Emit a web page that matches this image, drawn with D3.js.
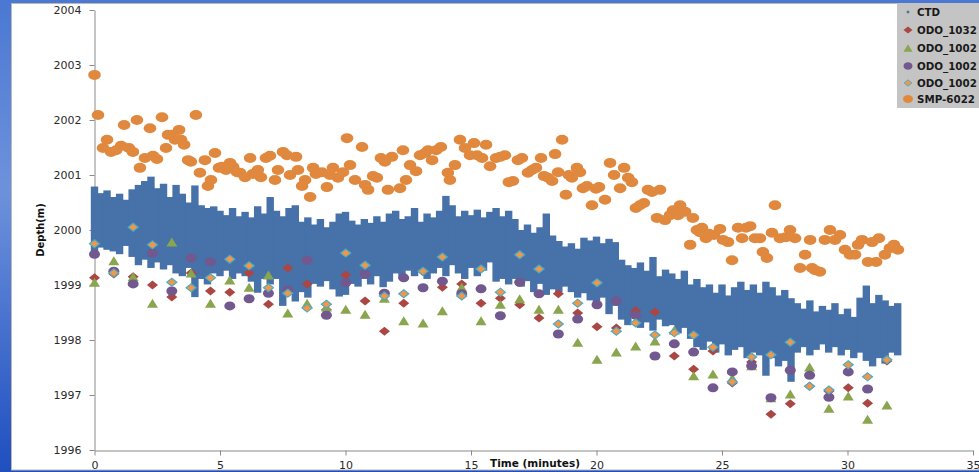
<!DOCTYPE html>
<html>
<head>
<meta charset="utf-8">
<script src="https://cdn.jsdelivr.net/npm/d3@7"></script>
<style>
  body { margin: 0; overflow: hidden; }
  svg { display: block; font-family: "DejaVu Sans", Verdana, sans-serif; }
</style>
</head>
<body>
<div id="chart"></div>
<script>
// CTD: high / low envelope of the dense logger trace, one pair every 0.25 min
var ctdStep = 0.25;
var ctdHigh = [
  2000.79, 2000.67, 2000.72, 2000.60, 2000.66, 2000.55, 2000.74, 2000.82,
  2000.89, 2000.97, 2000.76, 2000.84, 2000.60, 2000.82, 2000.66, 2000.50,
  2000.81, 2000.45, 2000.40, 2000.43, 2000.35, 2000.27, 2000.40, 2000.25,
  2000.33, 2000.23, 2000.43, 2000.30, 2000.60, 2000.35, 2000.25, 2000.40,
  2000.45, 2000.15, 2000.23, 2000.10, 2000.20, 2000.05, 2000.15, 2000.30,
  2000.33, 2000.17, 2000.10, 2000.20, 2000.13, 2000.25, 2000.15, 2000.30,
  2000.35, 2000.20, 2000.25, 2000.40, 2000.15, 2000.30, 2000.23, 2000.35,
  2000.62, 2000.45, 2000.25, 2000.35, 2000.27, 2000.37, 2000.23, 2000.33,
  2000.40, 2000.25, 2000.35, 2000.20, 2000.00, 2000.10, 1999.95, 2000.05,
  2000.30, 1999.90, 1999.80, 1999.70, 1999.76, 1999.66, 1999.86, 1999.81,
  1999.88, 1999.76, 1999.84, 1999.78, 1999.46, 1999.36, 1999.31, 1999.41,
  1999.26, 1999.51, 1999.16, 1999.28, 1999.21, 1999.11, 1999.26, 1999.01,
  1999.11, 1998.96, 1999.01, 1998.86, 1999.01, 1998.81, 1998.96, 1999.06,
  1998.91, 1999.01, 1998.86, 1999.06, 1998.96, 1998.81, 1998.91, 1998.76,
  1998.67, 1998.57, 1998.72, 1998.52, 1998.62, 1998.55, 1998.67, 1998.47,
  1998.57, 1998.42, 1998.77, 1998.99, 1998.67, 1998.82, 1998.72, 1998.62,
  1998.67
];
var ctdLow = [
  1999.61, 1999.68, 1999.64, 1999.61, 1999.56, 1999.71, 1999.51, 1999.36,
  1999.46, 1999.31, 1999.41, 1999.28, 1999.36, 1999.21, 1999.16, 1999.31,
  1998.78, 1999.11, 1999.01, 1999.21, 1999.16, 1999.26, 1999.11, 1999.21,
  1999.16, 1999.06, 1998.86, 1999.11, 1999.01, 1999.11, 1998.62, 1998.96,
  1998.70, 1998.87, 1998.77, 1999.02, 1998.97, 1999.07, 1998.92, 1998.79,
  1998.82, 1999.02, 1998.97, 1999.11, 1999.01, 1999.16, 1998.96, 1999.06,
  1999.21, 1999.11, 1999.26, 1999.16, 1999.26, 1999.11, 1999.21, 1999.31,
  1999.16, 1999.36, 1999.21, 1999.11, 1999.31, 1999.16, 1999.26, 1999.41,
  1999.06, 1999.11, 1999.01, 1999.11, 1998.97, 1999.07, 1998.87, 1999.02,
  1998.82, 1998.92, 1998.87, 1998.97, 1998.87, 1998.77, 1998.85, 1998.72,
  1998.67, 1998.77, 1998.47, 1998.62, 1998.37, 1998.27, 1998.42, 1998.22,
  1998.32, 1998.17, 1998.37, 1998.25, 1998.27, 1998.12, 1998.22, 1998.02,
  1997.87, 1997.82, 1997.97, 1997.77, 1997.92, 1997.72, 1997.82, 1997.87,
  1997.67, 1997.77, 1997.72, 1997.35, 1997.67, 1997.52, 1997.62, 1997.24,
  1997.77, 1997.87, 1997.72, 1997.82, 1997.92, 1997.77, 1997.87, 1997.72,
  1997.82, 1997.67, 1997.77, 1997.62, 1997.52, 1997.67, 1997.57, 1997.77,
  1997.72
];

// sonde readings, one every ~0.77 min
var odoTime = [0, 0.77, 1.54, 2.31, 3.08, 3.85, 4.62, 5.39, 6.16, 6.93, 7.70, 8.47, 9.24, 10.01,
  10.78, 11.55, 12.32, 13.09, 13.86, 14.63, 15.40, 16.17, 16.94, 17.71, 18.48, 19.25, 20.02,
  20.79, 21.56, 22.33, 23.10, 23.87, 24.64, 25.41, 26.18, 26.95, 27.72, 28.49, 29.26, 30.03,
  30.80, 31.57];
var odo1032 = [1999.13, 1999.20, 1999.15, 1999.00, 1998.78, 1999.22, 1998.89, 1998.87, 1999.22,
  1998.65, 1999.31, 1999.02, 1998.55, 1999.18, 1998.71, 1998.16, 1998.67, 1999.24, 1998.96,
  1999.02, 1998.67, 1998.76, 1998.64, 1998.40, 1998.84, 1998.49, 1998.24, 1998.22, 1998.53,
  1998.51, 1997.71, 1997.47, 1997.80, 1997.22, 1997.60, 1996.65, 1996.84, 1997.16, 1997.07,
  1997.13, 1996.85, 1997.62];
var odo1002a = [1999.05, 1999.44, 1999.15, 1998.67, 1999.78, 1999.22, 1998.67, 1999.09, 1998.96,
  1999.18, 1998.49, 1998.67, 1998.60, 1998.56, 1998.47, 1998.76, 1998.35, 1998.31, 1998.53,
  1998.96, 1998.35, 1998.65, 1998.75, 1998.56, 1998.56, 1997.96, 1997.65, 1997.78, 1997.89,
  1997.98, 1998.18, 1997.35, 1997.38, 1997.31, 1997.53, 1996.95, 1997.02, 1997.51, 1996.76,
  1996.98, 1996.56, 1996.82];
var odo1002b = [1999.56, 1999.25, 1999.02, 1999.58, 1998.89, 1999.49, 1999.42, 1998.62, 1998.75,
  1998.85, 1998.91, 1999.45, 1998.45, 1999.04, 1999.20, 1998.85, 1999.13, 1998.95, 1999.07,
  1998.84, 1998.93, 1998.44, 1999.05, 1998.84, 1998.11, 1998.38, 1998.64, 1998.71, 1998.45,
  1997.71, 1997.93, 1997.78, 1997.13, 1997.42, 1997.53, 1996.95, 1997.45, 1997.36, 1996.96,
  1997.42, 1997.11, null];
var odo1002c = [1999.75, 1999.22, 2000.05, 1999.73, 1999.05, 1998.95, 1999.13, 1999.47, 1999.35,
  1998.95, 1998.85, 1998.58, 1998.65, 1999.58, 1999.36, 1998.80, 1998.84, 1999.25, 1999.51,
  1998.80, 1999.29, 1998.87, 1999.55, 1999.29, 1998.29, 1998.67, 1999.04, 1998.16, 1998.31,
  1998.09, 1998.13, 1998.09, 1997.87, 1997.24, 1997.69, 1997.73, 1997.96, 1997.16, 1997.09,
  1997.55, 1997.33, 1997.64];

// SMP-6022 readings
var smpTime = [0.00, 0.14, 0.34, 0.50, 0.66, 0.86, 1.06, 1.18, 1.37, 1.53, 1.69, 1.81, 2.01, 2.21,
  2.33, 2.49, 2.69, 2.85, 2.93, 3.09, 3.21, 3.37, 3.45, 3.57, 3.73, 3.84, 4.04, 4.20, 4.40, 4.52,
  4.64, 4.80, 4.96, 5.08, 5.24, 5.40, 5.52, 5.68, 5.80, 6.00, 6.20, 6.31, 6.51, 6.63, 6.83, 6.99,
  7.19, 7.31, 7.51, 7.67, 7.79, 8.03, 8.11, 8.27, 8.39, 8.59, 8.71, 8.82, 9.06, 9.26, 9.38, 9.50,
  9.70, 9.90, 10.06, 10.18, 10.38, 10.66, 10.78, 10.90, 11.10, 11.25, 11.41, 11.57, 11.69, 11.85,
  12.17, 12.29, 12.41, 12.57, 12.81, 12.97, 13.17, 13.29, 13.45, 13.61, 13.80, 14.08, 14.16,
  14.36, 14.56, 14.76, 14.96, 15.12, 15.24, 15.44, 15.60, 15.76, 16.00, 16.16, 16.35, 16.51,
  16.67, 16.87, 17.03, 17.27, 17.43, 17.59, 17.79, 17.91, 18.07, 18.23, 18.35, 18.47, 18.63,
  18.78, 18.90, 19.02, 19.22, 19.34, 19.46, 19.62, 19.82, 19.98, 20.10, 20.34, 20.54, 20.70,
  20.94, 21.10, 21.26, 21.41, 21.57, 21.73, 21.89, 22.05, 22.21, 22.41, 22.53, 22.73, 22.93,
  23.05, 23.25, 23.33, 23.53, 23.73, 23.84, 24.00, 24.12, 24.20, 24.36, 24.48, 24.68, 24.92,
  25.04, 25.24, 25.40, 25.64, 25.80, 25.96, 26.12, 26.31, 26.51, 26.63, 26.79, 26.99, 27.11,
  27.31, 27.55, 27.71, 27.91, 28.11, 28.31, 28.51, 28.59, 28.71, 28.90, 29.10, 29.30, 29.50,
  29.70, 29.90, 30.10, 30.30, 30.42, 30.58, 30.82, 30.98, 31.14, 31.25, 31.49, 31.69, 31.85, 32.01];
var smpDepth = [2002.82, 2002.09, 2001.49, 2001.64, 2001.42, 2001.45, 2001.53, 2001.91, 2001.49,
  2001.42, 2002.00, 2001.13, 2001.31, 2001.85, 2001.35, 2001.29, 2002.05, 2001.49, 2001.73,
  2001.73, 2001.64, 2001.82, 2001.64, 2001.55, 2001.27, 2001.24, 2002.09, 2001.04, 2001.27,
  2000.80, 2000.91, 2001.40, 2001.13, 2001.15, 2001.09, 2001.22, 2001.15, 2001.05, 2001.04,
  2000.96, 2001.31, 2001.02, 2001.09, 2000.96, 2001.31, 2001.35, 2000.91, 2001.09, 2001.42,
  2001.36, 2001.00, 2001.33, 2001.09, 2000.80, 2000.91, 2000.60, 2001.13, 2001.02, 2001.05,
  2000.78, 2001.00, 2001.13, 2000.95, 2001.05, 2001.67, 2001.18, 2000.91, 2001.51, 2000.82,
  2000.73, 2000.98, 2000.95, 2001.31, 2001.24, 2000.73, 2001.33, 2000.76, 2001.45, 2000.91,
  2001.18, 2001.07, 2001.36, 2001.40, 2001.45, 2001.27, 2001.45, 2001.51, 2001.04, 2000.91,
  2001.18, 2001.64, 2001.49, 2001.36, 2001.58, 2001.36, 2001.31, 2001.55, 2001.16, 2001.31,
  2001.33, 2001.36, 2000.87, 2000.89, 2001.27, 2001.31, 2001.04, 2001.09, 2001.13, 2001.31,
  2000.98, 2000.95, 2000.89, 2001.38, 2001.05, 2001.64, 2000.64, 2001.00, 2000.95, 2001.13,
  2001.05, 2000.76, 2000.80, 2000.45, 2000.75, 2000.78, 2000.55, 2001.22, 2001.00, 2000.76,
  2001.13, 2000.95, 2000.87, 2000.40, 2000.45, 2000.49, 2000.73, 2000.69, 2000.22, 2000.73,
  2000.18, 2000.27, 2000.36, 2000.27, 2000.45, 2000.33, 1999.73, 2000.22, 2000.00, 1999.96,
  2000.04, 1999.85, 1999.93, 1999.91, 2000.02, 1999.82, 1999.78, 1999.45, 2000.04, 1999.85,
  2000.04, 2000.07, 1999.85, 1999.85, 1999.60, 1999.49, 1999.95, 2000.45, 1999.85, 1999.87,
  2000.00, 1999.85, 1999.31, 1999.55, 1999.82, 1999.31, 1999.27, 1999.24, 1999.82, 2000.00,
  1999.82, 1999.91, 1999.64, 1999.55, 1999.55, 1999.73, 1999.82, 1999.42, 1999.78, 1999.42,
  1999.85, 1999.55, 1999.67, 1999.73, 1999.64];

var xTicks = [0, 5, 10, 15, 20, 25, 30, 35];
var yTicks = [1996, 1997, 1998, 1999, 2000, 2001, 2002, 2003, 2004];
var legendNames = ["CTD", "ODO_1032", "ODO_1002", "ODO_1002", "ODO_1002", "SMP-6022"];

var W = 979, H = 472;
var svg = d3.select("#chart").append("svg").attr("width", W).attr("height", H);

var defs = svg.append("defs");
var bg = defs.append("linearGradient").attr("id", "bg").attr("x1", 0).attr("y1", 0).attr("x2", 0).attr("y2", 1);
bg.append("stop").attr("offset", "0%").attr("stop-color", "#4a78d2");
bg.append("stop").attr("offset", "40%").attr("stop-color", "#6d92dc");
bg.append("stop").attr("offset", "100%").attr("stop-color", "#1f4fc0");

svg.append("rect").attr("width", W).attr("height", H).attr("fill", "url(#bg)");
svg.append("rect").attr("x", 11.5).attr("y", 3.5).attr("width", W).attr("height", 466.5)
  .attr("fill", "#fff").attr("stroke", "#b9b9b9");

var x = d3.scaleLinear().domain([0, 35]).range([94.5, 973]);
var y = d3.scaleLinear().domain([1996, 2004]).range([450, 10]);

// axes
var yAxis = svg.append("g").attr("transform", "translate(94.5,0)")
  .call(d3.axisLeft(y).tickValues(yTicks).tickFormat(d3.format("d")).tickSize(5).tickSizeOuter(0).tickPadding(8));
var xAxis = svg.append("g").attr("transform", "translate(0,450.5)")
  .call(d3.axisBottom(x).tickValues(xTicks).tickSize(5).tickSizeOuter(0).tickPadding(6));
[xAxis, yAxis].forEach(function(a) {
  a.select(".domain").attr("stroke", "#8a8a8a");
  a.selectAll(".tick line").attr("stroke", "#8a8a8a");
  a.selectAll(".tick text").attr("fill", "#2a2a2a").style("font-size", "11px")
    .style("font-family", "DejaVu Sans, Verdana, sans-serif");
});

svg.append("text").attr("x", 535).attr("y", 467).attr("text-anchor", "middle")
  .style("font-size", "10.5px").style("font-weight", "bold").attr("fill", "#111")
  .text("Time (minutes)");
svg.append("text").attr("transform", "translate(44,230) rotate(-90)").attr("text-anchor", "middle")
  .style("font-size", "10px").style("font-weight", "bold").attr("fill", "#111")
  .text("Depth(m)");

// marker shapes
function diamond(w, h) { return "M0," + (-h) + "L" + w + ",0L0," + h + "L" + (-w) + ",0Z"; }
function triangle(w, h) { return "M0," + (-h) + "L" + w + "," + h + "L" + (-w) + "," + h + "Z"; }

var colors = {ctd: "#4672a9", red: "#aa4643", green: "#89a54e", purple: "#71588f",
  odoFill: "#f39646", odoEdge: "#4bacc6", smp: "#e0893e"};

// CTD trace
var ctdTime = ctdHigh.map(function(d, i) { return i * ctdStep; });
svg.append("g").selectAll("line").data(ctdHigh).join("line")
  .attr("x1", function(d, i) { return x(ctdTime[i]); })
  .attr("x2", function(d, i) { return x(ctdTime[i]); })
  .attr("y1", function(d) { return y(d); })
  .attr("y2", function(d, i) { return y(ctdLow[i]); })
  .attr("stroke", colors.ctd).attr("stroke-width", 7.4);

function pts(vals) {
  return vals.map(function(v, i) { return {t: odoTime[i], v: v}; })
    .filter(function(d) { return d.v != null; });
}

svg.append("g").selectAll("path").data(pts(odo1032)).join("path")
  .attr("transform", function(d) { return "translate(" + x(d.t) + "," + y(d.v) + ")"; })
  .attr("d", diamond(5.5, 4.5)).attr("fill", colors.red);

svg.append("g").selectAll("path").data(pts(odo1002a)).join("path")
  .attr("transform", function(d) { return "translate(" + x(d.t) + "," + y(d.v) + ")"; })
  .attr("d", triangle(5.5, 4.5)).attr("fill", colors.green);

svg.append("g").selectAll("ellipse").data(pts(odo1002b)).join("ellipse")
  .attr("cx", function(d) { return x(d.t); }).attr("cy", function(d) { return y(d.v); })
  .attr("rx", 5.5).attr("ry", 4.5).attr("fill", colors.purple);

svg.append("g").selectAll("path").data(pts(odo1002c)).join("path")
  .attr("transform", function(d) { return "translate(" + x(d.t) + "," + y(d.v) + ")"; })
  .attr("d", diamond(5, 4)).attr("fill", colors.odoFill)
  .attr("stroke", colors.odoEdge).attr("stroke-width", 1.2);

svg.append("g").selectAll("ellipse").data(smpDepth).join("ellipse")
  .attr("cx", function(d, i) { return x(smpTime[i]); }).attr("cy", function(d) { return y(d); })
  .attr("rx", 6.3).attr("ry", 5).attr("fill", colors.smp);

// legend
var lg = svg.append("g").attr("transform", "translate(897,3)");
lg.append("rect").attr("width", 90).attr("height", 105).attr("fill", "#c4c4c4");
var legendY = [9, 27, 45, 63, 80, 96];
legendNames.forEach(function(name, i) {
  var row = lg.append("g").attr("transform", "translate(11," + legendY[i] + ")");
  if (i === 0) row.append("path").attr("d", diamond(1.8, 1.8)).attr("fill", colors.ctd);
  if (i === 1) row.append("path").attr("d", diamond(4.5, 3.5)).attr("fill", colors.red);
  if (i === 2) row.append("path").attr("d", triangle(4.5, 3.8)).attr("fill", colors.green);
  if (i === 3) row.append("ellipse").attr("rx", 4.5).attr("ry", 3.8).attr("fill", colors.purple);
  if (i === 4) row.append("path").attr("d", diamond(3.8, 3.2)).attr("fill", colors.odoFill)
    .attr("stroke", colors.odoEdge).attr("stroke-width", 1);
  if (i === 5) row.append("ellipse").attr("rx", 5).attr("ry", 4).attr("fill", colors.smp);
  row.append("text").attr("x", 9).attr("y", 4).style("font-size", "10.3px")
    .style("font-weight", "bold").attr("fill", "#1a1a1a").text(name);
});
</script>
</body>
</html>
